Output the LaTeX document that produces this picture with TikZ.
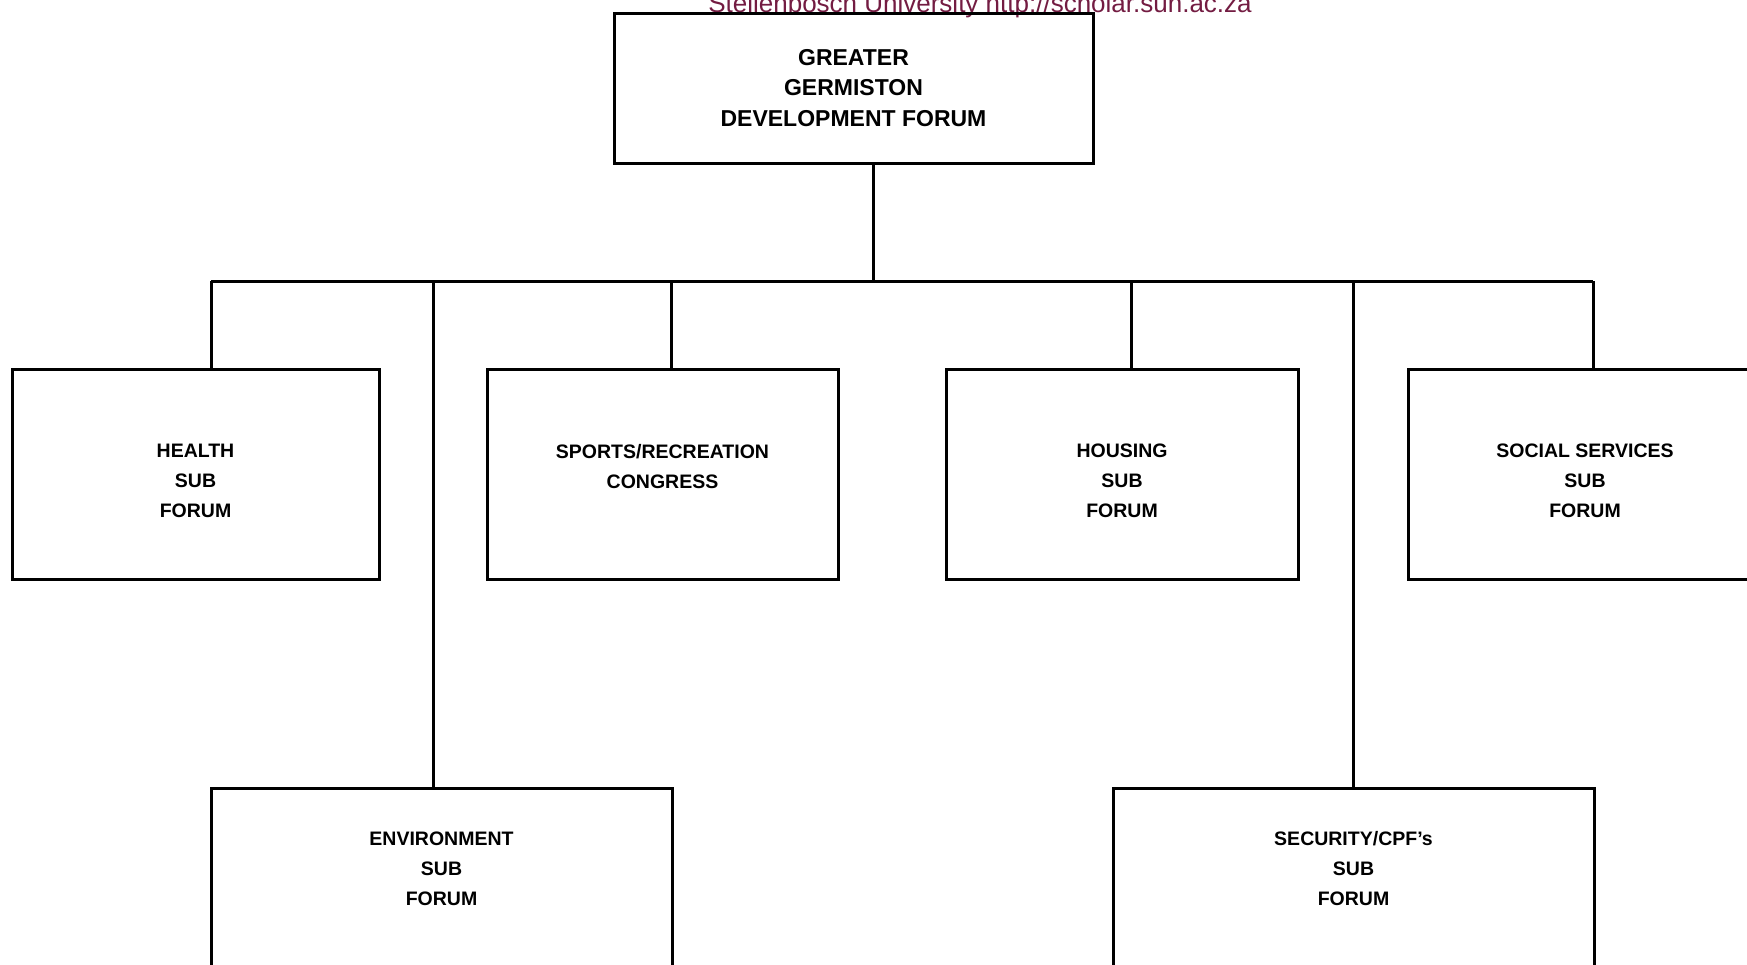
\documentclass[tikz,border=0pt]{standalone}
\usepackage{fontspec}
\setmainfont{Liberation Sans}
\definecolor{wmred}{RGB}{115,28,66}
\tikzset{
    forumbox/.style={draw, line width=3pt, inner sep=0pt, align=center,
        font=\bfseries\fontsize{19.5}{30}\selectfont},
    upperbox/.style={forumbox, minimum height=210pt, text height=88pt},
    lowerbox/.style={forumbox, minimum height=178pt, text height=116pt},
    conn/.style={line width=3pt}
}
\begin{document}
\begin{tikzpicture}[x=1pt, y=-1pt]
    % Page frame
    \useasboundingbox (0,0) rectangle (1747,964);

    % Repository line at the top edge
    \node[anchor=base, text=wmred, font=\fontsize{26}{30}\selectfont, inner sep=0pt] (wm) at (980,12)
        {Stellenbosch University http://scholar.sun.ac.za};

    % Main forum
    \node[forumbox, minimum width=479pt, minimum height=150pt,
        font=\bfseries\fontsize{23}{30.5}\selectfont] (gdf) at (853.5,88)
        {GREATER\\GERMISTON\\DEVELOPMENT FORUM};

    % Upper row of sub forums
    \node[upperbox, minimum width=367pt] (health) at (195.5,474)
        {HEALTH\\SUB\\FORUM};
    \node[upperbox, minimum width=351pt] (sports) at (662.5,474)
        {SPORTS/RECREATION\\CONGRESS\\{}};
    \node[upperbox, minimum width=352pt] (housing) at (1122,474)
        {HOUSING\\SUB\\FORUM};
    \node[upperbox, minimum width=354pt] (social) at (1585,474)
        {SOCIAL SERVICES\\SUB\\FORUM};

    % Lower row of sub forums (cut off by the page edge)
    \node[lowerbox, minimum width=461pt] (env) at (441.5,877)
        {ENVIRONMENT\\SUB\\FORUM\\{}};
    \node[lowerbox, minimum width=481pt] (security) at (1353.5,877)
        {SECURITY/CPF's\\SUB\\FORUM\\{}};

    % Stem and bus line
    \coordinate (stem) at (873,281);
    \coordinate (busl) at (211,281);
    \coordinate (busr) at (1593,281);
    \draw[conn] (gdf.south -| stem) -- (stem);
    \draw[conn] (busl) -- (busr);

    % Drops from the bus to each sub forum
    \foreach \x/\n in {211/health, 433/env, 671/sports, 1131/housing, 1353/security, 1593/social} {
        \coordinate (b\n) at (\x,281);
        \draw[conn] (b\n) -- (b\n |- \n.north);
    }
\end{tikzpicture}
\end{document}
